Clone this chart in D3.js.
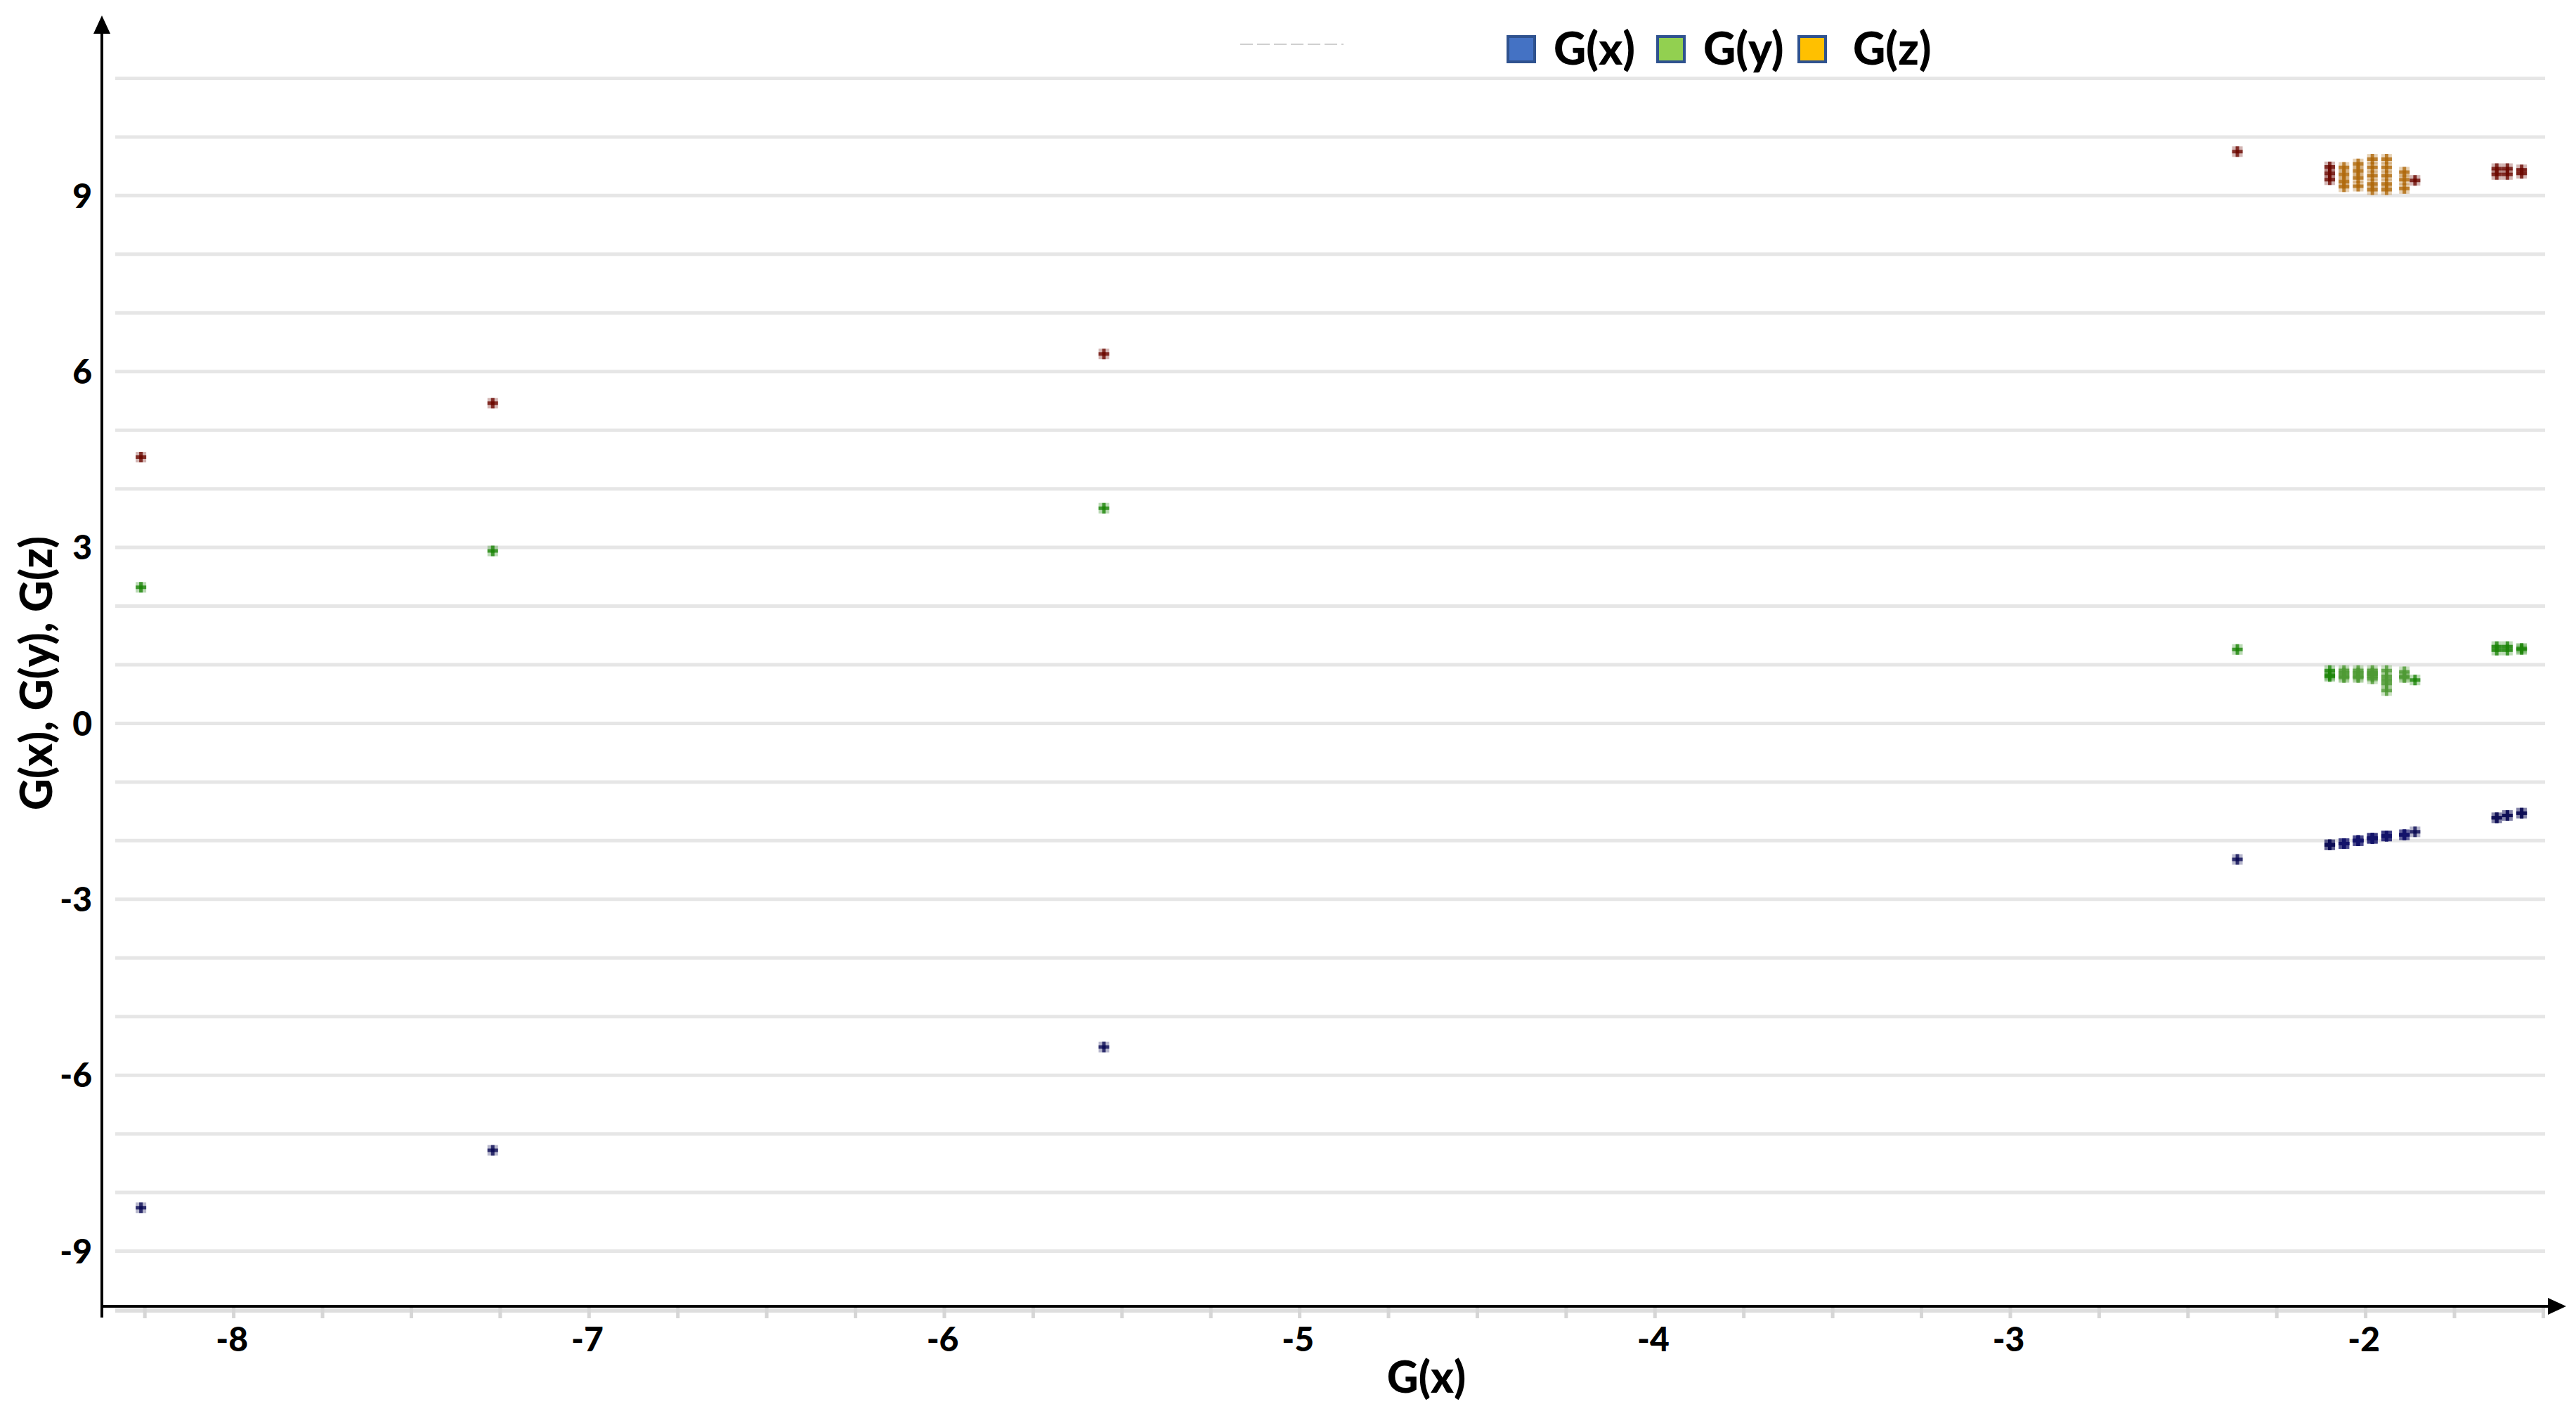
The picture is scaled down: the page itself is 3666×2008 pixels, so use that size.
<!DOCTYPE html>
<html>
<head>
<meta charset="utf-8">
<script src="https://cdn.jsdelivr.net/npm/d3@7"></script>
<style>
  body { margin: 0; background: #fff; }
  svg { display: block; }
  text { font-family: Lato, "Open Sans", sans-serif; font-weight: 900; fill: #000; }
</style>
</head>
<body>
<svg id="chart"></svg>
<script>
//Series names and legend swatches
var seriesNames = ["G(x)", "G(y)", "G(z)"];
var legendFill  = ["#4472C4", "#92D050", "#FFC000"];

//Sample positions on the horizontal axis (G(x))
var sampleX = [-8.26, -7.27, -5.55, -2.36,
  -2.10, -2.10, -2.10,
  -2.06, -2.06, -2.06, -2.06,
  -2.02, -2.02, -2.02, -2.02,
  -1.98, -1.98, -1.98, -1.98, -1.98,
  -1.94, -1.94, -1.94, -1.94, -1.94,
  -1.89, -1.89, -1.89,
  -1.86,
  -1.63, -1.63, -1.60, -1.60, -1.56, -1.56];

//G(x) values
var gxValues = [-8.26, -7.28, -5.52, -2.32,
  -2.07, -2.07, -2.07,
  -2.05, -2.05, -2.05, -2.05,
  -2.00, -2.00, -2.00, -2.00,
  -1.96, -1.96, -1.96, -1.96, -1.96,
  -1.92, -1.92, -1.92, -1.92, -1.92,
  -1.90, -1.90, -1.90,
  -1.85,
  -1.61, -1.61, -1.57, -1.57, -1.53, -1.53];

//G(y) values
var gyValues = [2.32, 2.94, 3.67, 1.26,
  0.90, 0.80, 0.82,
  0.90, 0.80, 0.86, 0.78,
  0.90, 0.80, 0.86, 0.78,
  0.90, 0.80, 0.86, 0.76, 0.84,
  0.90, 0.80, 0.68, 0.56, 0.74,
  0.88, 0.78, 0.80,
  0.74,
  1.31, 1.25, 1.31, 1.25, 1.28, 1.26];

//G(z) values
var gzValues = [4.54, 5.46, 6.30, 9.75,
  9.49, 9.38, 9.27,
  9.48, 9.36, 9.24, 9.15,
  9.54, 9.42, 9.30, 9.16,
  9.62, 9.48, 9.34, 9.20, 9.10,
  9.62, 9.48, 9.34, 9.20, 9.10,
  9.40, 9.27, 9.12,
  9.26,
  9.46, 9.36, 9.46, 9.36, 9.44, 9.38];

//Axis ticks
var xMajorTicks = [-8, -7, -6, -5, -4, -3, -2];
var yTicks = [-9, -6, -3, 0, 3, 6, 9];
var yGrid = d3.range(-9, 12, 1);
var xMinorTicks = d3.range(-8.25, -1.49, 0.25);

//Marker colours (plain and where the cluster is dense)
var markColor = ["#0d0d55", "#1e860a", "#6d0a02"];
var denseColor = ["#14146a", "#4f9a35", "#b06a0e"];
var denseRange = [-2.08, -1.88];

var W = 3666, H = 2008;
var svg = d3.select("#chart").attr("width", W).attr("height", H);

//Scales
var x = d3.scaleLinear().domain([-8.37, -1.494]).range([145, 3622]);
var y = d3.scaleLinear().domain([-10, 12]).range([1864, 28]);
var axisY = y(-10) - 5;

//Horizontal grid lines
svg.append("g").attr("class", "grid")
  .selectAll("line").data(yGrid).enter().append("line")
  .attr("x1", 164).attr("x2", x.range()[1])
  .attr("y1", function(d) { return y(d); })
  .attr("y2", function(d) { return y(d); })
  .attr("stroke", "#e6e6e6").attr("stroke-width", 5);

//Grey band + minor ticks under the x axis
svg.append("line")
  .attr("x1", 164).attr("x2", x.range()[1])
  .attr("y1", axisY + 6).attr("y2", axisY + 6)
  .attr("stroke", "#dedede").attr("stroke-width", 6);
var minor = svg.append("g")
  .attr("transform", "translate(0," + axisY + ")")
  .call(d3.axisBottom(x).tickValues(xMinorTicks).tickSize(17).tickFormat(""));
minor.select(".domain").remove();
minor.selectAll("line").attr("stroke", "#d6d6d6").attr("stroke-width", 5);

//Faint stray line near the top
svg.append("line")
  .attr("x1", 1765).attr("x2", 1912).attr("y1", 63).attr("y2", 63)
  .attr("stroke", "#cfcfcf").attr("stroke-width", 2)
  .attr("stroke-dasharray", "18,6");

//Points
var points = sampleX.map(function(sx, i) {
  return { x: sx, v: [gxValues[i], gyValues[i], gzValues[i]] };
});
var cross = d3.symbol().type(d3.symbolCross).size(125);
seriesNames.forEach(function(name, s) {
  var g = svg.append("g").attr("class", "series-" + s);
  var node = g.selectAll("g").data(points).enter().append("g")
    .attr("transform", function(d) { return "translate(" + x(d.x) + "," + y(d.v[s]) + ")"; });
  var col = function(d) {
    return (d.x > denseRange[0] && d.x < denseRange[1]) ? denseColor[s] : markColor[s];
  };
  node.append("rect")
    .attr("x", -7.5).attr("y", -7.5).attr("width", 15).attr("height", 15)
    .attr("fill", col).attr("opacity", 0.3);
  node.append("path").attr("d", cross).attr("fill", col).attr("opacity", 0.8);
  node.append("rect")
    .attr("x", -2.5).attr("y", -2.5).attr("width", 5).attr("height", 5)
    .attr("fill", col);
});

//Axis lines with arrow heads
svg.append("line")
  .attr("x1", 145).attr("x2", 3630).attr("y1", axisY).attr("y2", axisY)
  .attr("stroke", "#000").attr("stroke-width", 4);
svg.append("path")
  .attr("d", "M3652," + axisY + "L3626," + (axisY - 12) + "L3626," + (axisY + 12) + "Z")
  .attr("fill", "#000");
svg.append("line")
  .attr("x1", 145).attr("x2", 145).attr("y1", axisY + 16).attr("y2", 44)
  .attr("stroke", "#000").attr("stroke-width", 4);
svg.append("path")
  .attr("d", "M145,22L133,48L157,48Z")
  .attr("fill", "#000");

//Major x labels
var xLab = svg.append("g")
  .attr("transform", "translate(0," + axisY + ")")
  .call(d3.axisBottom(x).tickValues(xMajorTicks).tickSize(0).tickPadding(30)
    .tickFormat(function(d) { return String(d); }));
xLab.select(".domain").remove();
xLab.selectAll("text")
  .style("font-family", "Lato, sans-serif").style("font-weight", 900)
  .attr("font-size", 48).attr("fill", "#000")
  .attr("dx", "-0.05em");

//Y labels
svg.append("g").selectAll("text").data(yTicks).enter().append("text")
  .attr("x", 131).attr("y", function(d) { return y(d); })
  .attr("dy", "0.36em")
  .attr("text-anchor", "end").attr("font-size", 48)
  .text(function(d) { return String(d); });

//Axis titles
svg.append("text")
  .attr("transform", "translate(2030,1960)")
  .attr("dy", "0.35em").attr("text-anchor", "middle").attr("font-size", 62)
  .text("G(x)");
svg.append("text")
  .attr("transform", "translate(52,958) rotate(-90)")
  .attr("dy", "0.35em").attr("text-anchor", "middle").attr("font-size", 62)
  .text("G(x), G(y), G(z)");

//Legend
var legendX = [2165, 2378, 2579];
var legendGap = [46, 46, 58];
var legend = svg.append("g").selectAll("g").data(seriesNames).enter().append("g")
  .attr("transform", function(d, i) { return "translate(" + legendX[i] + ",70)"; });
legend.append("rect")
  .attr("x", -19).attr("y", -18).attr("width", 38).attr("height", 36)
  .attr("fill", function(d, i) { return legendFill[i]; })
  .attr("stroke", "#2F528F").attr("stroke-width", 4);
legend.append("text")
  .attr("x", function(d, i) { return legendGap[i]; })
  .attr("dy", "0.35em").attr("font-size", 64)
  .text(function(d) { return d; });
</script>
</body>
</html>
